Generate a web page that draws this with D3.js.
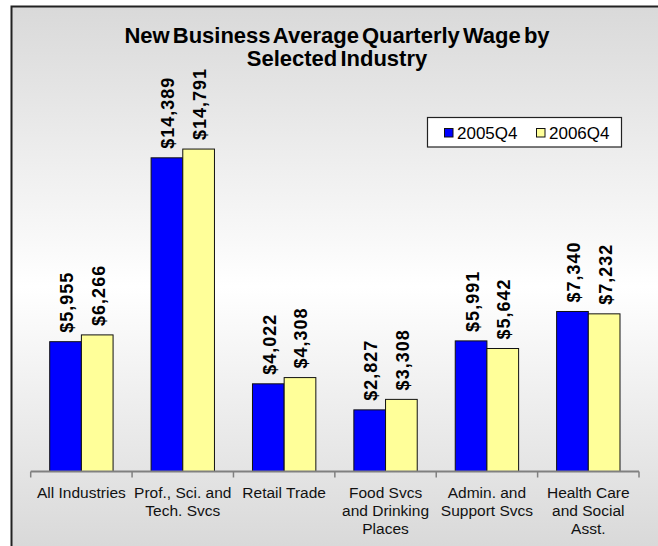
<!DOCTYPE html>
<html>
<head>
<meta charset="utf-8">
<script src="https://cdn.jsdelivr.net/npm/d3@7"></script>
<style>
  html, body { margin: 0; padding: 0; background: #fff; }
  svg { display: block; font-family: "Liberation Sans", Arial, sans-serif; }
</style>
</head>
<body>
<div id="chart"></div>
<script>
// data
const categories = [
  ["All Industries"],
  ["Prof., Sci. and", "Tech. Svcs"],
  ["Retail Trade"],
  ["Food Svcs", "and Drinking", "Places"],
  ["Admin. and", "Support Svcs"],
  ["Health Care", "and Social", "Asst."]
];
const seriesNames = ["2005Q4", "2006Q4"];
const wages2005 = [5955, 14389, 4022, 2827, 5991, 7340];
const wages2006 = [6266, 14791, 4308, 3308, 5642, 7232];
const seriesColors = ["#0000ff", "#ffff99"];
const titleLines = ["New Business Average Quarterly Wage by", "Selected Industry"];

const width = 658, height = 546;
const svg = d3.select("#chart").append("svg")
  .attr("width", width)
  .attr("height", height);

// background with soft grey-white-grey gradient
const grad = svg.append("defs").append("linearGradient")
  .attr("id", "bg").attr("x1", 0).attr("y1", 0).attr("x2", 0).attr("y2", 1);
grad.append("stop").attr("offset", "0%").attr("stop-color", "#d9d9d9");
grad.append("stop").attr("offset", "52%").attr("stop-color", "#ffffff");
grad.append("stop").attr("offset", "100%").attr("stop-color", "#d9d9d9");

svg.append("rect")
  .attr("x", 11).attr("y", 6)
  .attr("width", width - 11).attr("height", height - 6)
  .attr("fill", "url(#bg)");
svg.append("path")
  .attr("d", `M11.5,${height}V6.5H${width}`)
  .attr("fill", "none")
  .attr("stroke", "#222")
  .attr("stroke-width", 2);

// title
svg.append("text")
  .attr("x", 337).attr("y", 43)
  .attr("text-anchor", "middle")
  .attr("font-weight", "bold")
  .attr("font-size", 22)
  .attr("word-spacing", -3)
  .selectAll("tspan").data(titleLines).join("tspan")
  .attr("x", 337)
  .attr("dy", (d, i) => i === 0 ? 0 : 23)
  .text(d => d);

// scales
const x0 = d3.scaleBand()
  .domain(d3.range(categories.length))
  .range([30.7, 639])
  .padding(0);
const bw = x0.bandwidth();
const x1 = d3.scaleBand()
  .domain(seriesNames)
  .range([bw * 0.1875, bw * 0.8125])
  .padding(0);
const y = d3.scaleLinear()
  .domain([0, 16000])
  .range([471.5, 471.5 - 16000 * 0.0218]);

const rows = categories.map((c, i) => ({
  i,
  values: [wages2005[i], wages2006[i]]
}));

const groups = svg.append("g").selectAll("g").data(rows).join("g")
  .attr("transform", d => `translate(${x0(d.i)},0)`);

groups.selectAll("rect")
  .data(d => d.values.map((v, k) => ({ v, k })))
  .join("rect")
  .attr("x", d => x1(seriesNames[d.k]))
  .attr("y", d => y(d.v))
  .attr("width", x1.bandwidth())
  .attr("height", d => y(0) - y(d.v))
  .attr("fill", d => seriesColors[d.k])
  .attr("stroke", "#111")
  .attr("stroke-width", 1);

const fmt = d3.format("$,");
groups.selectAll("text.val")
  .data(d => d.values.map((v, k) => ({ v, k })))
  .join("text")
  .attr("class", "val")
  .attr("transform", d => `translate(${x1(seriesNames[d.k]) + x1.bandwidth() / 2 + 1},${y(d.v) - 9}) rotate(-90)`)
  .attr("dy", "0.36em")
  .attr("font-weight", "bold")
  .attr("font-size", 18)
  .attr("letter-spacing", 1)
  .text(d => fmt(d.v));

// x axis
const axis = svg.append("g").attr("transform", `translate(0,${y(0)})`);
axis.append("line")
  .attr("x1", x0.range()[0]).attr("x2", x0.range()[1])
  .attr("stroke", "#808080").attr("stroke-width", 2);
axis.selectAll("line.tick")
  .data(d3.range(categories.length + 1))
  .join("line")
  .attr("class", "tick")
  .attr("x1", i => x0.range()[0] + i * x0.step())
  .attr("x2", i => x0.range()[0] + i * x0.step())
  .attr("y1", 0).attr("y2", 6)
  .attr("stroke", "#808080").attr("stroke-width", 1.5);

axis.selectAll("text.cat")
  .data(categories)
  .join("text")
  .attr("class", "cat")
  .attr("text-anchor", "middle")
  .attr("font-size", 15.5)
  .attr("fill", "#111")
  .each(function (lines, i) {
    d3.select(this).selectAll("tspan").data(lines).join("tspan")
      .attr("x", x0(i) + bw / 2)
      .attr("y", (d, j) => 26 + j * 18)
      .text(d => d);
  });

// legend
const legend = svg.append("g");
legend.append("rect")
  .attr("x", 427.5).attr("y", 117.5)
  .attr("width", 194).attr("height", 29.5)
  .attr("fill", "#fff")
  .attr("stroke", "#222").attr("stroke-width", 1.2);
const legX = [444, 536];
seriesNames.forEach((s, k) => {
  legend.append("rect")
    .attr("x", legX[k] + 0.5).attr("y", 128.5)
    .attr("width", 8.5).attr("height", 8.5)
    .attr("fill", seriesColors[k])
    .attr("stroke", "#111").attr("stroke-width", 1);
  legend.append("text")
    .attr("x", legX[k] + 13).attr("y", 138.5)
    .attr("font-size", 17)
    .text(s);
});
</script>
</body>
</html>
